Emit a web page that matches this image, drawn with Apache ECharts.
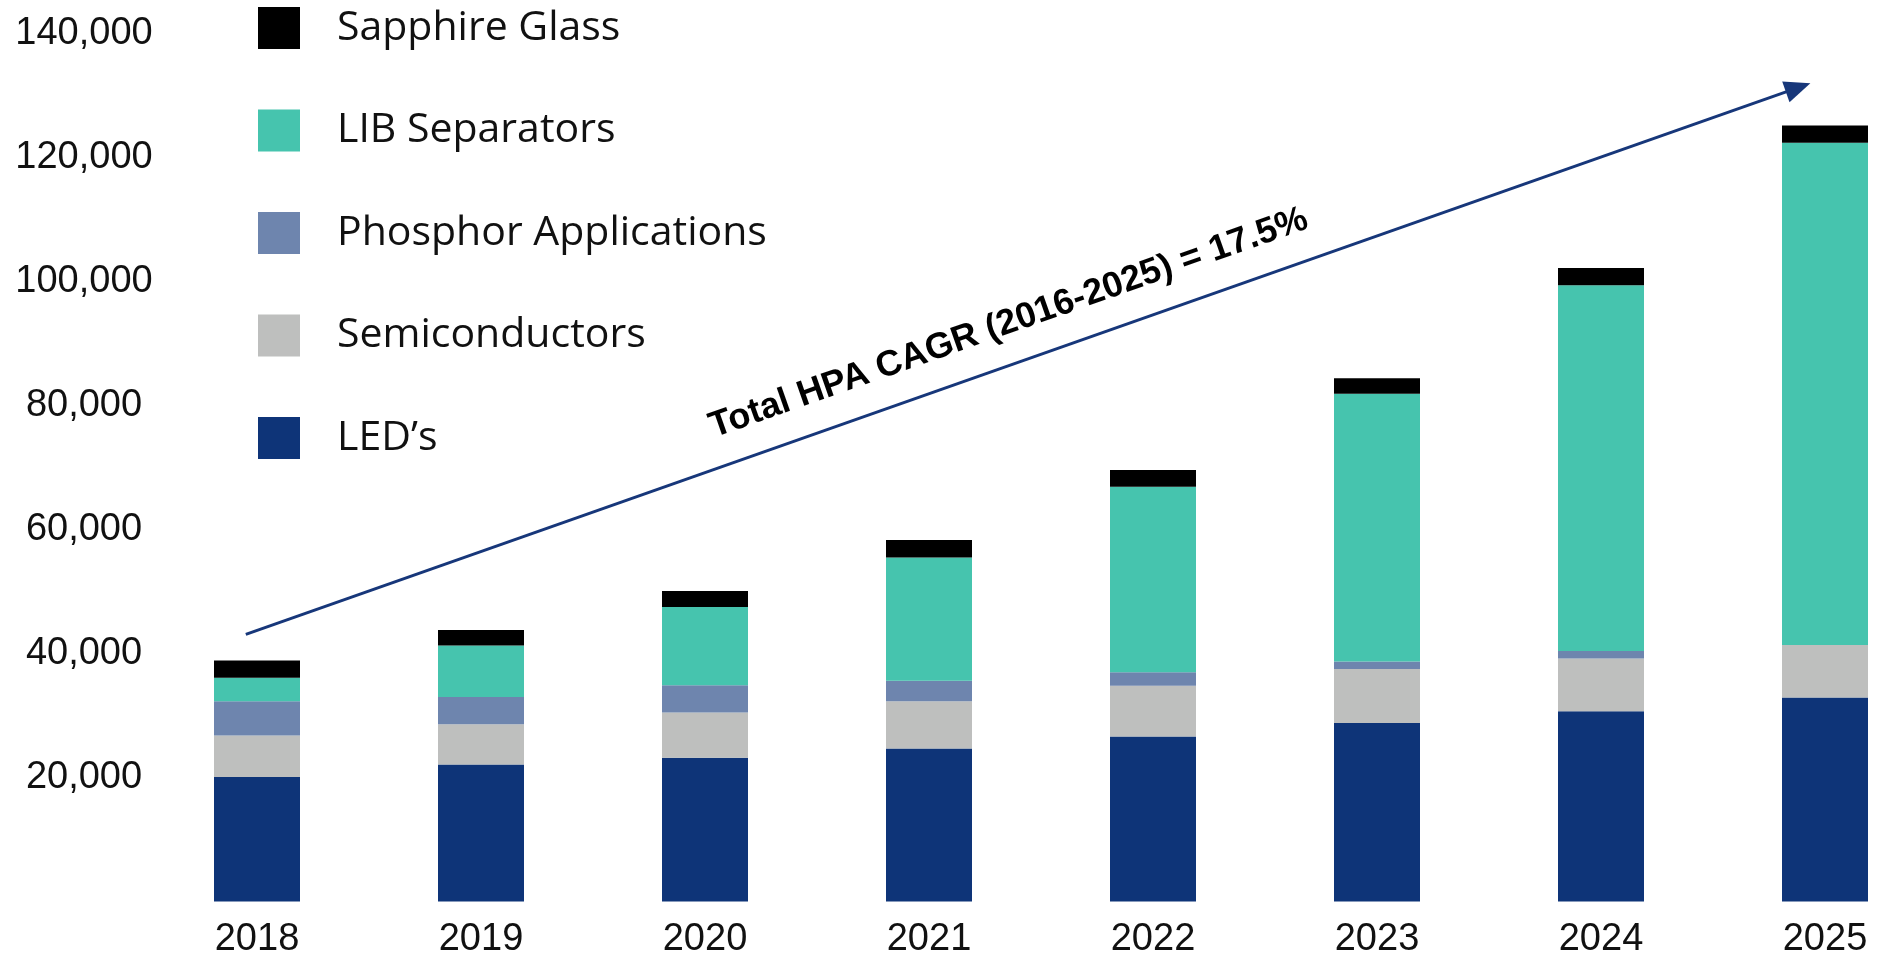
<!DOCTYPE html>
<html>
<head>
<meta charset="utf-8">
<title>HPA demand by application</title>
<script src="https://cdn.jsdelivr.net/npm/echarts@6/dist/echarts.min.js"></script>
<style>
  html, body { margin: 0; padding: 0; background: #fff; }
  #chart { width: 1877px; height: 955px; }
</style>
</head>
<body>
<div id="chart"></div>
<script>
// years on the x axis
const years = ['2018', '2019', '2020', '2021', '2022', '2023', '2024', '2025']

// stacked segments, bottom to top (tonnes)
const leds = [20100, 22100, 23200, 24700, 26600, 28800, 30700, 32900]
const semiconductors = [6700, 6500, 7300, 7600, 8200, 8700, 8500, 8500]
const phosphor = [5500, 4400, 4400, 3300, 2200, 1200, 1200, 0]
const libSeparators = [3800, 8300, 12600, 19900, 29900, 43200, 59000, 81000]
const sapphireGlass = [2800, 2500, 2600, 2800, 2700, 2500, 2800, 2800]

// legend order, top to bottom
const legendNames = ['Sapphire Glass', 'LIB Separators', 'Phosphor Applications', 'Semiconductors', 'LED\u2019s']

// CAGR arrow, in (category index, value) units
const trendStart = [-0.05, 43100]
const trendEnd = [6.88, 131300]
const trendLabel = 'Total HPA CAGR (2016-2025) = 17.5%'

const chart = echarts.init(document.getElementById('chart'))

function barSeries(name, data, color) {
  return {
    name: name,
    type: 'bar',
    stack: 'total',
    barWidth: 86,
    itemStyle: { color: color },
    data: data
  }
}

chart.setOption({
  animation: false,
  textStyle: { fontFamily: 'Liberation Sans, Arial, sans-serif' },
  legend: {
    data: legendNames,
    orient: 'vertical',
    left: 258,
    top: 7,
    padding: 0,
    itemWidth: 42,
    itemHeight: 42,
    itemGap: 60.5,
    icon: 'rect',
    selectedMode: false,
    textStyle: {
      fontFamily: 'Open Sans',
      fontSize: 41,
      color: '#111',
      padding: [0, 0, 0, 32]
    }
  },
  // the last bar touches the right edge, so the grid runs past the canvas
  grid: {
    left: 145,
    width: 1792,
    top: 33.7,
    bottom: 53.5,
    outerBoundsMode: 'none'
  },
  xAxis: [{
    type: 'category',
    data: years,
    axisLine: { show: false },
    axisTick: { show: false },
    axisLabel: {
      fontSize: 38,
      color: '#111',
      margin: 19
    }
  }, {
    // hidden axis so the arrow can sit between category centres
    type: 'value',
    min: -0.5,
    max: 7.5,
    show: false
  }],
  yAxis: {
    type: 'value',
    min: 0,
    max: 140000,
    interval: 20000,
    splitLine: { show: false },
    axisLine: { show: false },
    axisTick: { show: false },
    axisLabel: {
      showMinLabel: false,
      align: 'center',
      margin: 61,
      fontSize: 38,
      color: '#111',
      formatter: v => v.toLocaleString('en-US')
    }
  },
  series: [
    barSeries('LED\u2019s', leds, '#0e3478'),
    barSeries('Semiconductors', semiconductors, '#bebfbe'),
    barSeries('Phosphor Applications', phosphor, '#6e85ae'),
    barSeries('LIB Separators', libSeparators, '#46c4ae'),
    barSeries('Sapphire Glass', sapphireGlass, '#000000'),
    {
      name: 'trend',
      type: 'line',
      xAxisIndex: 1,
      data: [],
      silent: true,
      markLine: {
        silent: true,
        symbol: ['none', 'triangle'],
        symbolSize: [22, 26],
        lineStyle: { color: '#17377a', width: 3, type: 'solid' },
        itemStyle: { color: '#17377a' },
        label: {
          show: true,
          position: 'middle',
          distance: 22,
          formatter: trendLabel,
          fontFamily: 'Liberation Sans, Arial, sans-serif',
          fontWeight: 'bold',
          fontSize: 36,
          color: '#000'
        },
        data: [[{ coord: trendStart }, { coord: trendEnd }]]
      }
    }
  ]
})
</script>
</body>
</html>
